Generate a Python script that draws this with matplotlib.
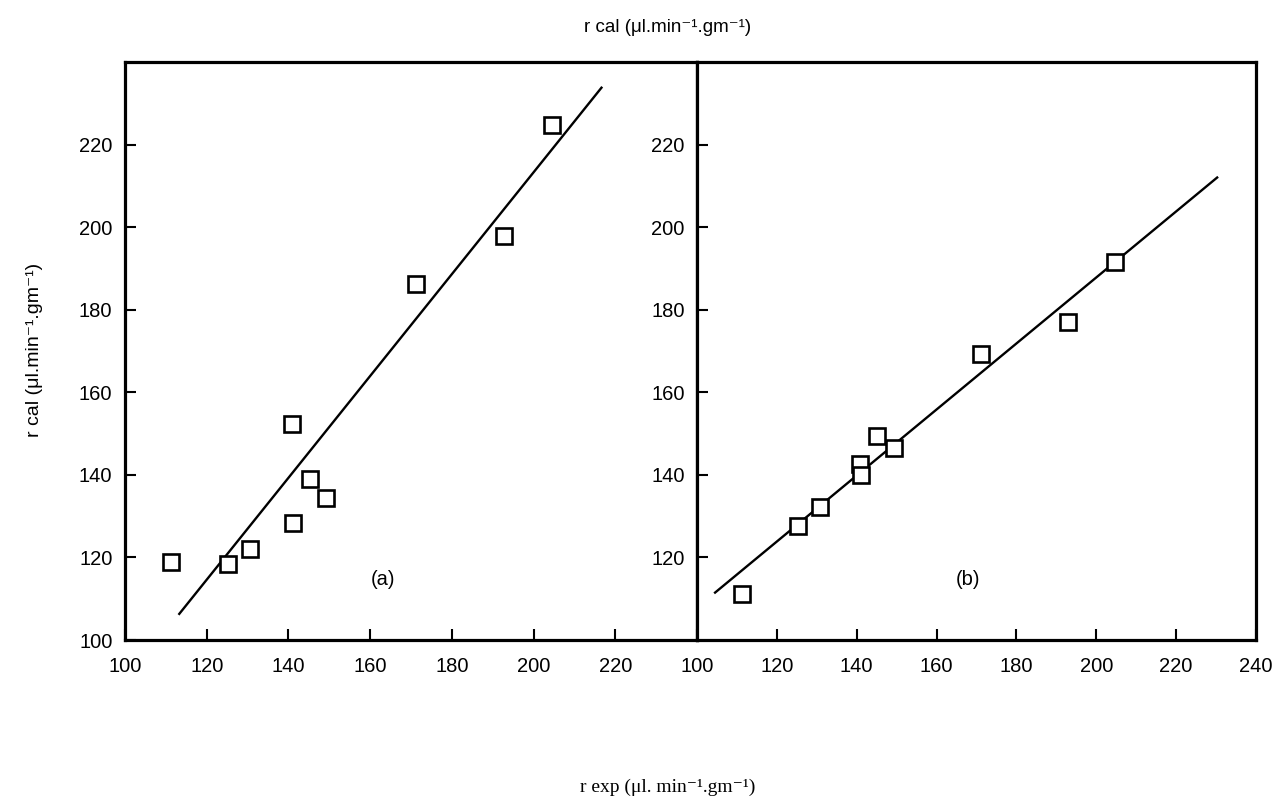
import matplotlib
matplotlib.use("Agg")
import matplotlib.pyplot as plt

# ---- data ----
r_exp = [111.3, 125.3, 130.7, 140.8, 141.1, 145.2, 149.3, 171.2, 192.8, 204.6]
r_cal_a = [119.0, 118.3, 122.0, 152.3, 128.4, 138.9, 134.5, 186.2, 197.9, 224.7]
r_cal_b = [111.1, 127.6, 132.3, 142.6, 140.0, 149.5, 146.4, 169.2, 177.1, 191.6]

fit_a_x = [113.1, 216.8]
fit_a_y = [106.1, 234.0]
fit_b_x = [104.3, 230.5]
fit_b_y = [111.3, 212.2]

xticks_a = [100, 120, 140, 160, 180, 200, 220]
xticks_b = [100, 120, 140, 160, 180, 200, 220, 240]
yticks_a = [100, 120, 140, 160, 180, 200, 220]
yticks_b = [120, 140, 160, 180, 200, 220]

sans = ['Liberation Sans', 'DejaVu Sans']
serif = ['Liberation Serif', 'DejaVu Serif']
plt.rcParams['font.family'] = sans

fig = plt.figure(figsize=(12.77, 8.0), dpi=100)
W, H = 1277, 800
axa = fig.add_axes([125 / W, 1 - 640 / H, (697 - 125) / W, (640 - 62) / H])
axb = fig.add_axes([697 / W, 1 - 640 / H, (1256 - 697) / W, (640 - 62) / H])

for ax, ycal, fx, fy, xt, yt, lab, lx in [
        (axa, r_cal_a, fit_a_x, fit_a_y, xticks_a, yticks_a, '(a)', 0.451),
        (axb, r_cal_b, fit_b_x, fit_b_y, xticks_b, yticks_b, '(b)', 0.484)]:
    ax.plot(fx, fy, color='black', lw=1.7, solid_capstyle='butt')
    ax.plot(r_exp, ycal, linestyle='none', marker='s', markersize=12,
            markerfacecolor='white', markeredgecolor='black', markeredgewidth=1.9)
    ax.set_xlim(100, 240)
    ax.set_ylim(100, 240)
    ax.set_xticks(xt)
    ax.set_yticks(yt)
    ax.tick_params(direction='in', length=8, width=1.5, labelsize=14.5, color='black',
                   top=False, right=False)
    ax.tick_params(axis='x', pad=12)
    ax.tick_params(axis='y', pad=9)
    for s in ax.spines.values():
        s.set_linewidth(2.3)
    ax.text(lx, 0.104, lab, transform=ax.transAxes, ha='center', va='center',
            fontsize=14.5)

fig.text(668 / W, 1 - 28 / H, 'r cal (\u03bcl.min\u207b\u00b9.gm\u207b\u00b9)',
         ha='center', va='center', fontsize=13.5, family=sans)
fig.text(35 / W, 1 - 350 / H, 'r cal (\u03bcl.min\u207b\u00b9.gm\u207b\u00b9)',
         ha='center', va='center', rotation=90, fontsize=14, family=sans)
fig.text(668 / W, 1 - 787 / H, 'r exp (\u03bcl. min\u207b\u00b9.gm\u207b\u00b9)',
         ha='center', va='center', fontsize=14, family=serif)

fig.savefig('out.png', dpi=100)
